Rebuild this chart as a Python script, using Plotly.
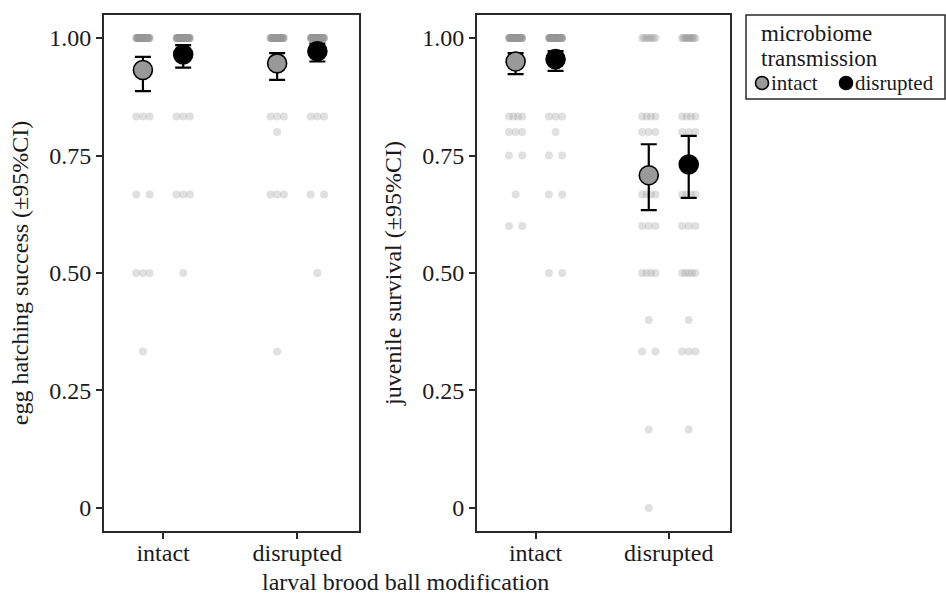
import numpy as np
import plotly.graph_objects as go

# ---------------- data ----------------
brood_labels = ["intact", "disrupted"]          # larval brood ball modification (x)
transmission_labels = ["intact", "disrupted"]   # microbiome transmission (colour)

# egg hatching success: observed proportions and how many broods show each
egg_levels = [1.0, 0.833, 0.8, 0.667, 0.5, 0.333]
egg_n_bi_ti = [40, 3, 0, 2, 3, 1]   # brood intact, transmission intact
egg_n_bi_td = [50, 3, 0, 3, 1, 0]   # brood intact, transmission disrupted
egg_n_bd_ti = [37, 3, 1, 3, 0, 1]   # brood disrupted, transmission intact
egg_n_bd_td = [50, 3, 0, 2, 1, 0]   # brood disrupted, transmission disrupted

# juvenile survival
surv_levels = [1.0, 0.833, 0.8, 0.75, 0.667, 0.6, 0.5, 0.4, 0.333, 0.167, 0.0]
surv_n_bi_ti = [45, 4, 3, 2, 1, 2, 0, 0, 0, 0, 0]
surv_n_bi_td = [50, 3, 1, 2, 2, 0, 2, 0, 0, 0, 0]
surv_n_bd_ti = [8, 4, 3, 0, 4, 3, 4, 1, 2, 1, 1]
surv_n_bd_td = [12, 4, 3, 0, 4, 3, 5, 1, 3, 1, 0]

# estimated means with 95% CI (per brood ball level: intact, disrupted)
egg_mean_ti = [0.932, 0.946]
egg_low_ti = [0.887, 0.911]
egg_up_ti = [0.960, 0.968]
egg_mean_td = [0.965, 0.972]
egg_low_td = [0.937, 0.950]
egg_up_td = [0.985, 0.988]

surv_mean_ti = [0.950, 0.708]
surv_low_ti = [0.923, 0.634]
surv_up_ti = [0.968, 0.774]
surv_mean_td = [0.955, 0.731]
surv_low_td = [0.930, 0.660]
surv_up_td = [0.972, 0.792]

y_tick_vals = [0, 0.25, 0.5, 0.75, 1.0]
y_tick_text = ["0", "0.25", "0.50", "0.75", "1.00"]

legend_title_lines = ["microbiome", "transmission"]

# ---------------- styling ----------------
FONT = "Liberation Serif, Times New Roman, serif"
FS = 24
DODGE = 0.15
SPREAD = 0.05
GREY_FILL = "#999999"
PT_COLOR = "rgba(153,153,153,0.3)"
AX_COLOR = "#2a2a2a"
TXT = "#1a1a1a"

x_pos = np.array([1.0, 2.0])


def raw_points(levels, counts_by_group):
    xs, ys = [], []
    for (xc, counts) in counts_by_group:
        for lev, n in zip(levels, counts):
            if n == 0:
                continue
            offs = np.linspace(-SPREAD, SPREAD, n) if n > 1 else np.array([0.0])
            xs.extend((xc + offs).tolist())
            ys.extend([lev] * n)
    return xs, ys


fig = go.Figure()

panels = [
    ("x", "y", egg_levels,
     [(1 - DODGE, egg_n_bi_ti), (1 + DODGE, egg_n_bi_td),
      (2 - DODGE, egg_n_bd_ti), (2 + DODGE, egg_n_bd_td)],
     (egg_mean_ti, egg_low_ti, egg_up_ti), (egg_mean_td, egg_low_td, egg_up_td)),
    ("x2", "y2", surv_levels,
     [(1 - DODGE, surv_n_bi_ti), (1 + DODGE, surv_n_bi_td),
      (2 - DODGE, surv_n_bd_ti), (2 + DODGE, surv_n_bd_td)],
     (surv_mean_ti, surv_low_ti, surv_up_ti), (surv_mean_td, surv_low_td, surv_up_td)),
]

for xa, ya, levels, groups, ti, td in panels:
    xs, ys = raw_points(levels, groups)
    fig.add_trace(go.Scatter(
        x=xs, y=ys, xaxis=xa, yaxis=ya, mode="markers",
        marker=dict(size=8, color=PT_COLOR, line=dict(width=0)),
        showlegend=False, hoverinfo="y"))
    for (m, lo, up), dx, fill, nm in [(ti, -DODGE, GREY_FILL, "intact"),
                                      (td, DODGE, "#000000", "disrupted")]:
        m = np.array(m); lo = np.array(lo); up = np.array(up)
        fig.add_trace(go.Scatter(
            x=x_pos + dx, y=m, xaxis=xa, yaxis=ya, mode="markers", name=nm,
            marker=dict(size=19, color=fill, line=dict(color="#000000", width=1.6)),
            error_y=dict(type="data", symmetric=False, array=up - m, arrayminus=m - lo,
                         color="#000000", thickness=2.2, width=8),
            showlegend=False))

L, R, T, B = 104, 216, 15, 67
W, H = 946, 598
pw = W - L - R
ph = H - T - B


def px_x(px):
    return (px - L) / pw


def px_y(py):
    return (H - B - py) / ph


axis_common = dict(showline=True, mirror=True, linecolor=AX_COLOR, linewidth=2,
                   ticks="outside", ticklen=6, tickwidth=2, tickcolor=AX_COLOR,
                   showgrid=False, zeroline=False, automargin=False,
                   tickfont=dict(family=FONT, size=FS, color=TXT))

# ---- hand-placed legend box (ggplot-style, compact) ----
shapes = [dict(type="rect", xref="paper", yref="paper",
               x0=px_x(746), x1=px_x(945), y0=px_y(99), y1=px_y(15),
               line=dict(color=AX_COLOR, width=1.5), fillcolor="white", layer="below")]
annotations = []
for line_txt, cy in zip(legend_title_lines, [34, 58]):
    annotations.append(dict(text=line_txt, xref="paper", yref="paper", x=px_x(759),
                            y=px_y(cy), xanchor="left", yanchor="middle", showarrow=False,
                            font=dict(family=FONT, size=23, color=TXT)))
leg_x_sym = [762, 846]
leg_fill = [GREY_FILL, "#000000"]
for name, sx, fill in zip(transmission_labels, leg_x_sym, leg_fill):
    shapes.append(dict(type="circle", xref="paper", yref="paper",
                       xsizemode="pixel", ysizemode="pixel",
                       xanchor=px_x(sx), yanchor=px_y(83),
                       x0=-6.5, x1=6.5, y0=-6.5, y1=6.5,
                       line=dict(color="#000000", width=1.6), fillcolor=fill))
    annotations.append(dict(text=name, xref="paper", yref="paper",
                            x=px_x(sx + 7), y=px_y(83), xanchor="left", yanchor="middle",
                            showarrow=False, font=dict(family=FONT, size=21, color=TXT)))

annotations.append(dict(text="larval brood ball modification", xref="paper", yref="paper",
                        x=px_x(405), y=px_y(582), xanchor="center", yanchor="middle",
                        showarrow=False, font=dict(family=FONT, size=FS, color=TXT)))

fig.update_layout(
    width=W, height=H,
    margin=dict(l=L, r=R, t=T, b=B, autoexpand=False),
    paper_bgcolor="white", plot_bgcolor="white",
    font=dict(family=FONT, size=FS, color=TXT),
    showlegend=False,
    xaxis=dict(domain=[0, 255 / pw], range=[0.56, 2.46], tickvals=x_pos.tolist(),
               ticktext=brood_labels, anchor="y", ticklabelstandoff=-7, **axis_common),
    xaxis2=dict(domain=[373 / pw, 1], range=[0.56, 2.46], tickvals=x_pos.tolist(),
                ticktext=brood_labels, anchor="y2", ticklabelstandoff=-7, **axis_common),
    yaxis=dict(range=[-0.049, 1.049], tickvals=y_tick_vals, ticktext=y_tick_text,
               anchor="x", title=dict(text="egg hatching success (±95%CI)",
                                      font=dict(family=FONT, size=FS), standoff=14),
               **axis_common),
    yaxis2=dict(range=[-0.049, 1.049], tickvals=y_tick_vals, ticktext=y_tick_text,
                anchor="x2", title=dict(text="juvenile survival (±95%CI)",
                                        font=dict(family=FONT, size=FS), standoff=14),
                **axis_common),
    shapes=shapes,
    annotations=annotations,
)

fig.write_html("out.html",
               config={"displayModeBar": False},
               post_script="document.body.style.margin='0';"
                           "document.body.style.overflow='hidden';")
